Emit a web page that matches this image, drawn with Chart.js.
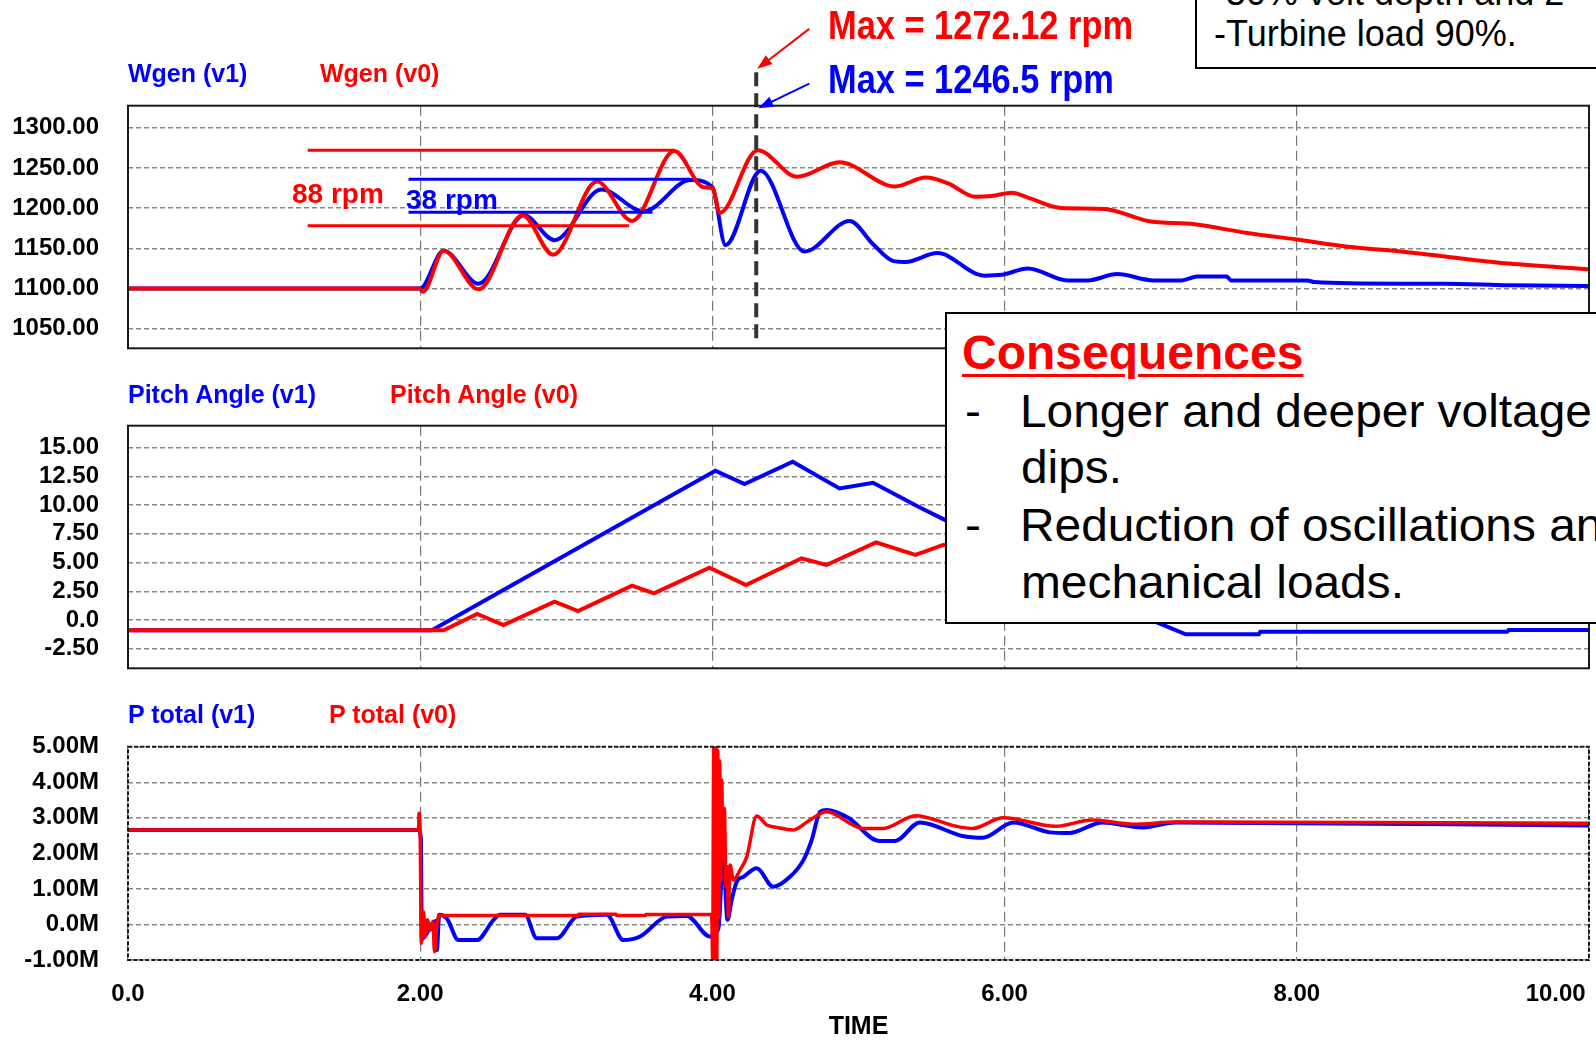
<!DOCTYPE html>
<html>
  <head>
    <meta charset="utf-8" />
    <title>Wgen / Pitch Angle / P total</title>
    <style>
      body {
        margin: 0;
        width: 1596px;
        height: 1041px;
        overflow: hidden;
        position: relative;
        background: #fff;
        font-family: "Liberation Sans", Arial, sans-serif;
      }
      canvas { position: absolute; left: 0; }
      .txt { position: absolute; white-space: nowrap; }
      .name { font-size: 25px; line-height: 25px; font-weight: bold; }
      .blue { color: #0000ff; }
      .red { color: #ff0000; }
      .maxv { font-size: 40px; line-height: 40px; font-weight: bold; transform: scaleX(0.86); transform-origin: left top; }
      .rpm { font-size: 28px; line-height: 28px; font-weight: bold; }
      .box { position: absolute; box-sizing: border-box; border: 2px solid #000; background: #fff; }
      .note { font-size: 36px; line-height: 36px; color: #000; }
      .cons { font-size: 46px; line-height: 46px; color: #000; transform: scaleX(1.04); transform-origin: left top; }
      .head { font-size: 48px; line-height: 48px; font-weight: bold; color: #ff0000;
        text-decoration: underline; text-decoration-thickness: 3px; text-underline-offset: 5px; }
    </style>
  </head>

  <body>
    <canvas id="wgenChart" width="1700" height="400" style="top: 0px"></canvas>
    <canvas id="pitchChart" width="1700" height="350" style="top: 370px"></canvas>
    <canvas id="ptotChart" width="1700" height="400" style="top: 690px"></canvas>

    <!-- series names -->
    <div class="txt name blue" style="left: 128px; top: 60.5px" id="n_wgen1"></div>
    <div class="txt name red" style="left: 320px; top: 60.5px" id="n_wgen0"></div>
    <div class="txt name blue" style="left: 128px; top: 381.5px" id="n_pitch1"></div>
    <div class="txt name red" style="left: 390px; top: 381.5px" id="n_pitch0"></div>
    <div class="txt name blue" style="left: 128px; top: 702px" id="n_ptot1"></div>
    <div class="txt name red" style="left: 329px; top: 702px" id="n_ptot0"></div>

    <!-- max notes -->
    <div class="txt maxv red" style="left: 828px; top: 5.4px">Max = 1272.12 rpm</div>
    <div class="txt maxv blue" style="left: 828px; top: 59.4px">Max = 1246.5 rpm</div>
    <div class="txt rpm red" style="left: 292px; top: 179.6px">88 rpm</div>
    <div class="txt rpm blue" style="left: 406px; top: 185.6px">38 rpm</div>

    <!-- test case box (top right) -->
    <div class="box" style="left: 1195px; top: -10px; width: 500px; height: 78.7px"></div>
    <div class="txt note" style="left: 1214px; top: -25.5px">-50% volt depth and 2</div>
    <div class="txt note" style="left: 1214px; top: 16.2px">-Turbine load 90%.</div>

    <!-- consequences box -->
    <div class="box" style="left: 944.5px; top: 312.3px; width: 700px; height: 311.4px"></div>
    <div class="txt head" style="left: 962px; top: 329.4px">Consequences</div>
    <div class="txt cons" style="left: 965px; top: 387.8px">-</div>
    <div class="txt cons" style="left: 1020px; top: 387.8px">Longer and deeper voltage</div>
    <div class="txt cons" style="left: 1021px; top: 444.4px">dips.</div>
    <div class="txt cons" style="left: 965px; top: 501.8px">-</div>
    <div class="txt cons" style="left: 1020px; top: 501.8px">Reduction of oscillations and</div>
    <div class="txt cons" style="left: 1021px; top: 558.8px">mechanical loads.</div>

    <script src="https://cdn.jsdelivr.net/npm/chart.js@4/dist/chart.umd.min.js"></script>

    <script>
      // 發電機轉速 Wgen (rpm)
      var wgen_t_v1 = [0, 2.0, 2.16, 2.4, 2.71, 2.92, 3.24, 3.53, 3.85, 4.0, 4.09, 4.33, 4.63, 4.94, 5.1, 5.24, 5.32, 5.54, 5.86, 5.98, 6.16, 6.43, 6.57, 6.77, 7.02, 7.21, 7.32, 7.52, 7.55, 8.07, 8.12, 8.71, 9.0, 9.45, 10.0];
      var wgen_v1 = [1100, 1100, 1147, 1106, 1191, 1160, 1223, 1196, 1235, 1226, 1154, 1246.5, 1146, 1184, 1155, 1134, 1133, 1144, 1116, 1117, 1125, 1110, 1110, 1118, 1110, 1110, 1115, 1115, 1110, 1110, 1108, 1106, 1106, 1104, 1103];
      var wgen_t_v0 = [0, 1.99, 2.02, 2.16, 2.4, 2.7, 2.91, 3.21, 3.45, 3.74, 3.94, 4.0, 4.05, 4.31, 4.58, 4.87, 5.19, 5.25, 5.46, 5.61, 5.8, 5.91, 6.05, 6.16, 6.39, 6.68, 6.98, 7.3, 7.66, 8.0, 8.35, 8.71, 8.91, 9.45, 10.0];
      var wgen_v0 = [1100, 1100, 1096, 1147, 1099, 1191, 1142, 1233, 1184, 1271, 1226, 1225, 1194, 1272.12, 1239, 1257, 1229, 1227, 1238, 1231, 1214, 1215, 1219, 1213, 1200, 1199, 1184, 1180, 1169, 1161, 1152, 1146, 1142, 1131, 1124];

      // 槳距角 Pitch Angle (deg)
      var pitch_t_v1 = [0, 2.08, 4.02, 4.22, 4.55, 4.87, 5.1, 5.41, 5.57, 7.03, 7.24, 7.74, 7.75, 9.44, 9.45, 10.0];
      var pitch_v1 = [-0.9, -0.9, 13.0, 11.84, 13.78, 11.46, 11.95, 9.86, 8.85, -0.15, -1.25, -1.25, -1.02, -1.02, -0.87, -0.87];
      var pitch_t_v0 = [0, 2.16, 2.39, 2.57, 2.92, 3.08, 3.45, 3.6, 3.98, 4.23, 4.61, 4.78, 5.12, 5.39, 5.58, 5.9, 10.0];
      var pitch_v0 = [-0.9, -0.9, 0.52, -0.44, 1.59, 0.78, 2.99, 2.32, 4.55, 3.04, 5.37, 4.79, 6.75, 5.66, 6.53, 7.0, 5.0];

      // 總功率 P total (M)
      var ptot_t_v1 = [0, 1.989, 2.005, 2.011, 2.105, 2.114, 2.13, 2.182, 2.262, 2.388, 2.502, 2.547, 2.718, 2.798, 2.935, 3.072, 3.277, 3.391, 3.505, 3.688, 3.824, 3.984, 4.041, 4.075, 4.103, 4.132, 4.166, 4.212, 4.303, 4.417, 4.531, 4.623, 4.68, 4.737, 4.782, 4.93, 5.14, 5.25, 5.42, 5.71, 5.85, 6.06, 6.31, 6.44, 6.67, 6.95, 7.17, 10.0];
      var ptot_v1 = [2.66, 2.66, 2.4, -0.4, 0.1, -0.72, 0.27, 0.17, -0.44, -0.44, 0.13, 0.27, 0.27, -0.39, -0.39, 0.22, 0.27, -0.44, -0.34, 0.22, 0.24, -0.34, -0.11, 1.95, 0.13, 0.69, 1.2, 1.34, 1.58, 1.06, 1.34, 1.81, 2.38, 3.17, 3.22, 3.0, 2.35, 2.35, 2.87, 2.49, 2.44, 2.87, 2.59, 2.57, 2.87, 2.73, 2.87, 2.78];
      var ptot_t_v0 = [0, 1.989, 1.992, 2.0, 2.008, 2.023, 2.034, 2.05, 2.068, 2.087, 2.098, 2.114, 2.132, 2.14, 3.08, 3.085, 3.34, 3.345, 3.54, 3.545, 3.995, 4.002, 4.009, 4.016, 4.023, 4.03, 4.036, 4.043, 4.05, 4.057, 4.064, 4.071, 4.082, 4.093, 4.103, 4.109, 4.121, 4.144, 4.189, 4.235, 4.303, 4.372, 4.44, 4.554, 4.668, 4.78, 5.03, 5.17, 5.39, 5.67, 5.78, 5.99, 6.35, 6.6, 6.88, 7.17, 10.0];
      var ptot_v0 = [2.66, 2.66, 3.13, 2.47, -0.53, 0.36, -0.34, 0.13, -0.16, 0.08, -0.77, 0.0, 0.27, 0.25, 0.25, 0.29, 0.29, 0.25, 0.25, 0.28, 0.28, -1.0, 5.0, -1.0, 5.0, -1.0, 4.9, 0.2, 4.6, 1.25, 4.06, 1.9, 3.27, 1.06, 1.62, 0.22, 1.67, 1.25, 1.53, 1.9, 3.05, 2.8, 2.73, 2.66, 2.94, 3.17, 2.7, 2.7, 3.06, 2.76, 2.7, 3.0, 2.76, 2.94, 2.82, 2.88, 2.85];

      // 軸刻度
      var timeTicks = [0, 2, 4, 6, 8, 10];
      var timeTickLabels = ["0.0", "2.00", "4.00", "6.00", "8.00", "10.00"];
      var timeTitle = "TIME";
      var wgenTicks = [1050, 1100, 1150, 1200, 1250, 1300];
      var wgenTickLabels = ["1050.00", "1100.00", "1150.00", "1200.00", "1250.00", "1300.00"];
      var pitchTicks = [-2.5, 0, 2.5, 5, 7.5, 10, 12.5, 15];
      var pitchTickLabels = ["-2.50", "0.0", "2.50", "5.00", "7.50", "10.00", "12.50", "15.00"];
      var ptotTicks = [-1, 0, 1, 2, 3, 4, 5];
      var ptotTickLabels = ["-1.00M", "0.0M", "1.00M", "2.00M", "3.00M", "4.00M", "5.00M"];

      // 名稱
      var wgenNames = ["Wgen (v1)", "Wgen (v0)"];
      var pitchNames = ["Pitch Angle (v1)", "Pitch Angle (v0)"];
      var ptotNames = ["P total (v1)", "P total (v0)"];

      // 標記: 最大值時間, 虛線上下端, 振幅線
      var maxTime = 4.3;
      var maxMark = [1038, 1372];
      var band_v0_y = [1272.12, 1178];
      var band_v0_t = [1.23, 3.74, 3.43];
      var band_v1_y = [1236, 1195];
      var band_v1_t = [1.92, 3.85, 3.59];

      var RED = "#ff0000";
      var BLUE = "#0000ff";

      Chart.defaults.font.family = "'Liberation Sans', Arial, sans-serif";
      Chart.defaults.color = "#000";

      document.getElementById("n_wgen1").textContent = wgenNames[0];
      document.getElementById("n_wgen0").textContent = wgenNames[1];
      document.getElementById("n_pitch1").textContent = pitchNames[0];
      document.getElementById("n_pitch0").textContent = pitchNames[1];
      document.getElementById("n_ptot1").textContent = ptotNames[0];
      document.getElementById("n_ptot0").textContent = ptotNames[1];

      function pts(t, v) {
        return t.map(function (x, i) {
          return { x: x, y: v[i] };
        });
      }

      function series(label, t, v, color, width, smooth) {
        return {
          label: label,
          data: pts(t, v),
          borderColor: color,
          borderWidth: width,
          pointRadius: 0,
          fill: false,
          tension: 0,
          cubicInterpolationMode: smooth ? "monotone" : "default",
        };
      }

      function segment(t1, t2, y, color, width) {
        return {
          label: "",
          data: [{ x: t1, y: y }, { x: t2, y: y }],
          borderColor: color,
          borderWidth: width,
          pointRadius: 0,
          fill: false,
        };
      }

      function timeAxis(showLabels) {
        return {
          type: "linear",
          min: 0,
          max: 10,
          afterBuildTicks: function (s) {
            s.ticks = timeTicks.map(function (v) { return { value: v }; });
          },
          grid: { color: "#777", lineWidth: 1.2, drawTicks: false },
          border: { display: false, dash: [10, 5] },
          ticks: {
            display: showLabels,
            padding: 19.6,
            maxRotation: 0,
            autoSkip: false,
            color: "#000",
            font: { size: 24, weight: "bold" },
            callback: function (v, i) {
              // 最後一個標籤靠右對齊圖框
              if (i === timeTicks.length - 1) return timeTickLabels[i] + "\u00a0".repeat(10);
              return timeTickLabels[i];
            },
          },
          title: {
            display: showLabels,
            text: timeTitle,
            color: "#000",
            font: { size: 25, weight: "bold" },
            padding: { top: -16, bottom: 4 },
          },
        };
      }

      function valueAxis(min, max, ticks, labels) {
        return {
          type: "linear",
          min: min,
          max: max,
          afterBuildTicks: function (s) {
            s.ticks = ticks.map(function (v) { return { value: v }; });
          },
          afterFit: function (s) { s.width = 128; },
          grid: { color: "#888", lineWidth: 1.5, drawTicks: false },
          border: { display: false, dash: [5, 3] },
          ticks: {
            padding: 29,
            autoSkip: false,
            color: "#000",
            font: { size: 24, weight: "bold" },
            callback: function (v, i) { return labels[i]; },
          },
        };
      }

      function plotBox(dash) {
        return {
          id: "plotBox",
          afterDatasetsDraw: function (chart) {
            var a = chart.chartArea;
            var ctx = chart.ctx;
            ctx.save();
            ctx.strokeStyle = "#1a1a1a";
            ctx.lineWidth = 2;
            ctx.setLineDash(dash);
            ctx.strokeRect(a.left, a.top, a.right - a.left, a.bottom - a.top);
            ctx.restore();
          },
        };
      }

      function arrow(ctx, x1, y1, x2, y2, color) {
        var ang = Math.atan2(y2 - y1, x2 - x1);
        ctx.save();
        ctx.strokeStyle = color;
        ctx.fillStyle = color;
        ctx.lineWidth = 2;
        ctx.beginPath();
        ctx.moveTo(x1, y1);
        ctx.lineTo(x2 - 10 * Math.cos(ang), y2 - 10 * Math.sin(ang));
        ctx.stroke();
        ctx.beginPath();
        ctx.moveTo(x2, y2);
        ctx.lineTo(x2 - 15 * Math.cos(ang) + 5.5 * Math.sin(ang), y2 - 15 * Math.sin(ang) - 5.5 * Math.cos(ang));
        ctx.lineTo(x2 - 15 * Math.cos(ang) - 5.5 * Math.sin(ang), y2 - 15 * Math.sin(ang) + 5.5 * Math.cos(ang));
        ctx.closePath();
        ctx.fill();
        ctx.restore();
      }

      var maxArrows = {
        id: "maxArrows",
        afterDraw: function (chart) {
          var x = chart.scales.x.getPixelForValue(maxTime);
          var yTop = chart.scales.y.getPixelForValue(maxMark[1]);
          var top = chart.chartArea.top;
          arrow(chart.ctx, x + 53, yTop - 41, x + 1, yTop - 1, RED);
          arrow(chart.ctx, x + 53, top - 22, x + 2, top + 2.5, BLUE);
        },
      };

      var common = {
        responsive: false,
        animation: false,
        events: [],
        plugins: { legend: { display: false }, tooltip: { enabled: false } },
      };

      // Wgen
      var markLine = {
        label: "",
        data: [{ x: maxTime, y: maxMark[0] }, { x: maxTime, y: maxMark[1] }],
        borderColor: "#333",
        borderWidth: 4,
        borderDash: [14, 7],
        pointRadius: 0,
        fill: false,
        clip: false,
      };
      var Chart1 = new Chart(document.getElementById("wgenChart"), {
        type: "line",
        data: {
          datasets: [
            markLine,
            segment(band_v1_t[0], band_v1_t[1], band_v1_y[0], BLUE, 3),
            segment(band_v1_t[0], band_v1_t[2], band_v1_y[1], BLUE, 3),
            segment(band_v0_t[0], band_v0_t[1], band_v0_y[0], RED, 3),
            segment(band_v0_t[0], band_v0_t[2], band_v0_y[1], RED, 3),
            series(wgenNames[1], wgen_t_v0, wgen_v0, RED, 4, true),
            series(wgenNames[0], wgen_t_v1, wgen_v1, BLUE, 4, true),
          ],
        },
        options: Object.assign({}, common, {
          layout: { padding: { left: 0, right: 111, top: 105.7, bottom: 51.7 } },
          scales: { x: timeAxis(false), y: valueAxis(1025.6, 1327.4, wgenTicks, wgenTickLabels) },
        }),
        plugins: [plotBox([]), maxArrows],
      });

      // Pitch Angle
      var Chart2 = new Chart(document.getElementById("pitchChart"), {
        type: "line",
        data: {
          datasets: [
            series(pitchNames[1], pitch_t_v0, pitch_v0, RED, 4, false),
            series(pitchNames[0], pitch_t_v1, pitch_v1, BLUE, 4, false),
          ],
        },
        options: Object.assign({}, common, {
          layout: { padding: { left: 0, right: 111, top: 55.7, bottom: 51.7 } },
          scales: { x: timeAxis(false), y: valueAxis(-4.21, 16.92, pitchTicks, pitchTickLabels) },
        }),
        plugins: [plotBox([])],
      });

      // P total
      var Chart3 = new Chart(document.getElementById("ptotChart"), {
        type: "line",
        data: {
          datasets: [
            series(ptotNames[1], ptot_t_v0, ptot_v0, RED, 3.5, true),
            series(ptotNames[0], ptot_t_v1, ptot_v1, BLUE, 4, true),
          ],
        },
        options: Object.assign({}, common, {
          layout: { padding: { left: 0, right: 111, top: 56.7, bottom: 44 } },
          scales: { x: timeAxis(true), y: valueAxis(-1, 5, ptotTicks, ptotTickLabels) },
        }),
        plugins: [plotBox([4, 2])],
      });
    </script>
  </body>
</html>
